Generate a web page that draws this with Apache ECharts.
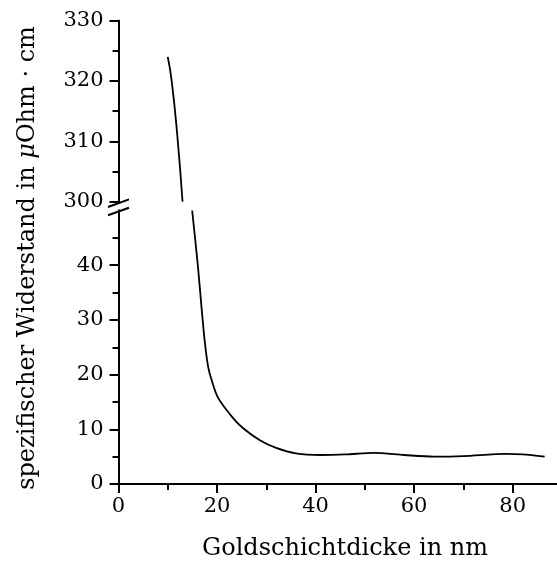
<!DOCTYPE html>
<html>
<head>
<meta charset="utf-8">
<script src="https://cdn.jsdelivr.net/npm/echarts@6/dist/echarts.min.js"></script>
<style>
  html, body { margin: 0; padding: 0; background: #fff; }
  #chart { width: 557px; height: 561px; }
</style>
</head>
<body>
<div id="chart"></div>
<script>
// Schichtdicke (nm) vs. spezifischer Widerstand (µOhm·cm)
var upperPoints = [[10, 324], [10.8, 320], [11.9, 311.3], [13, 300]];
var lowerPoints = [
  [14.95, 50], [16.1, 40], [16.9, 31.8], [17.55, 25.7], [18.2, 21.4], [18.9, 19],
  [20.25, 15.7], [23.3, 12.0], [25.3, 10.2], [28.7, 8], [32, 6.6], [36, 5.6],
  [41, 5.3], [46, 5.4], [52, 5.7], [58, 5.3], [64, 5.0], [70, 5.1],
  [78.7, 5.5], [82, 5.4], [86.5, 5.0]
];
var xMajor = [0, 20, 40, 60, 80];
var xMinor = [10, 30, 50, 70];
var yUpperMajor = [300, 310, 320, 330];
var yUpperMinor = [305, 315, 325];
var yLowerMajor = [0, 10, 20, 30, 40];
var yLowerMinor = [5, 15, 25, 35, 45];

var font = 'DejaVu Serif';
var axisLine = { show: true, onZero: false, lineStyle: { color: '#000', width: 2 } };

function xAx(grid, ticks, len, labels) {
  return {
    type: 'value', gridIndex: grid, min: 0, max: 89, position: 'bottom',
    show: grid === 1,
    axisLine: axisLine,
    axisTick: { show: true, length: len, customValues: ticks, lineStyle: { color: '#000', width: 2 } },
    axisLabel: { show: labels, customValues: ticks, margin: 12, color: '#000', fontFamily: font, fontSize: 21 },
    splitLine: { show: false }
  };
}
function yAx(grid, min, max, ticks, len, labels) {
  return {
    type: 'value', gridIndex: grid, min: min, max: max, position: 'left',
    axisLine: axisLine,
    axisTick: { show: true, length: len, customValues: ticks, lineStyle: { color: '#000', width: 2 } },
    axisLabel: { show: labels, customValues: ticks, margin: 15, color: '#000', fontFamily: font, fontSize: 21 },
    splitLine: { show: false }
  };
}

var chart = echarts.init(document.getElementById('chart'));
chart.setOption({
  animation: false,
  grid: [
    { left: 118.5, right: 0, top: 20.7, height: 181 },
    { left: 118.5, right: 0, top: 210.5, bottom: 77 }
  ],
  xAxis: [
    xAx(0, xMajor, 9, false),
    xAx(1, xMajor, 9, true),
    xAx(1, xMinor, 6, false)
  ],
  yAxis: [
    yAx(0, 300, 330, yUpperMajor, 9, true),
    yAx(0, 300, 330, yUpperMinor, 6, false),
    yAx(1, 0, 50, yLowerMajor, 9, true),
    yAx(1, 0, 50, yLowerMinor, 6, false)
  ],
  series: [
    { type: 'line', xAxisIndex: 0, yAxisIndex: 0, data: upperPoints, smooth: true,
      showSymbol: false, lineStyle: { color: '#000', width: 1.8 } },
    { type: 'line', xAxisIndex: 1, yAxisIndex: 2, data: lowerPoints, smooth: 0.3,
      showSymbol: false, lineStyle: { color: '#000', width: 1.8 } }
  ]
});

// Achsenbruch-Markierung und Achsentitel
var pTop = chart.convertToPixel({ xAxisIndex: 0, yAxisIndex: 0 }, [0, 300]);
var pBot = chart.convertToPixel({ xAxisIndex: 1, yAxisIndex: 2 }, [0, 50]);
function breakLine(p) {
  return {
    type: 'line', z: 100,
    shape: { x1: p[0] - 10.5, y1: p[1] + 3.8, x2: p[0] + 10.5, y2: p[1] - 3.8 },
    style: { stroke: '#000', lineWidth: 2 }
  };
}
chart.setOption({
  graphic: [
    breakLine([pTop[0], pTop[1] + 1.5]),
    breakLine([pBot[0], pBot[1] + 1]),
    {
      type: 'text', x: 345, y: 549,
      style: { text: 'Goldschichtdicke in nm', font: '24px "DejaVu Serif"', fill: '#000',
        align: 'center', verticalAlign: 'middle' }
    },
    {
      type: 'text', x: 28, y: 258, rotation: Math.PI / 2,
      style: {
        text: '{n|spezifischer Widerstand in }{i|μ}{n|Ohm · cm}',
        align: 'center', verticalAlign: 'middle',
        rich: {
          n: { fontFamily: font, fontSize: 24, fill: '#000' },
          i: { fontFamily: font, fontSize: 24, fontStyle: 'italic', fill: '#000' }
        }
      }
    }
  ]
});
</script>
</body>
</html>
